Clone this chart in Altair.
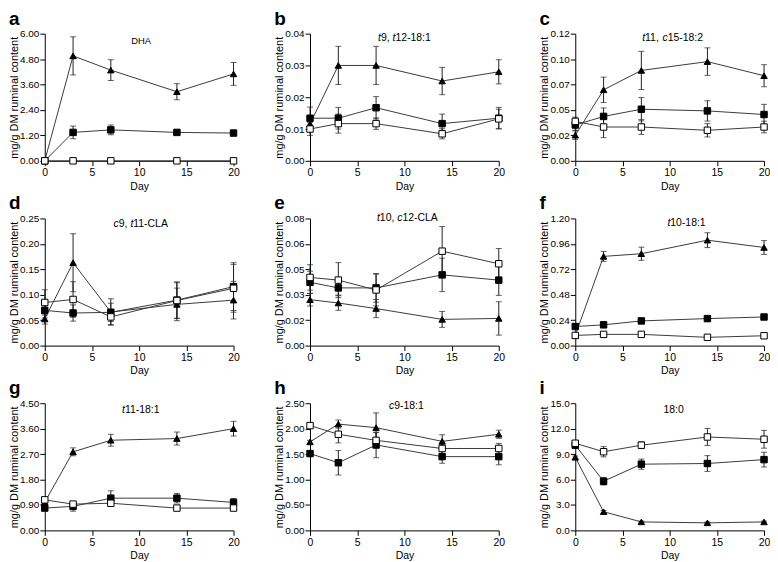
import altair as alt
import pandas as pd

FONT = "Liberation Sans"

DAYS = [0, 3, 7, 14, 20]
X_TICKS = [0, 5, 10, 15, 20]
SERIES = ["triangle", "filled square", "open square"]
LETTERS = ["a", "b", "c", "d", "e", "f", "g", "h", "i"]

# panel titles as (text, italic) segments
TITLES = [
    [("DHA", False)],
    [("t", True), ("9, ", False), ("t", True), ("12-18:1", False)],
    [("t", True), ("11, ", False), ("c", True), ("15-18:2", False)],
    [("c", True), ("9, ", False), ("t", True), ("11-CLA", False)],
    [("t", True), ("10, ", False), ("c", True), ("12-CLA", False)],
    [("t", True), ("10-18:1", False)],
    [("t", True), ("11-18:1", False)],
    [("c", True), ("9-18:1", False)],
    [("18:0", False)],
]

# y-axis ticks per panel
Y_TICKS = [
    [0, 1.2, 2.4, 3.6, 4.8, 6.0],
    [0, 0.01, 0.02, 0.03, 0.04],
    [0, 0.024, 0.048, 0.072, 0.096, 0.12],
    [0, 0.05, 0.10, 0.15, 0.20, 0.25],
    [0, 0.016, 0.032, 0.048, 0.064, 0.08],
    [0, 0.24, 0.48, 0.72, 0.96, 1.2],
    [0, 0.9, 1.8, 2.7, 3.6, 4.5],
    [0, 0.5, 1.0, 1.5, 2.0, 2.5],
    [0, 3.0, 6.0, 9.0, 12.0, 15.0],
]
Y_FMT = [".2f", ".2f", ".2f", ".2f", ".2f", ".2f", ".2f", ".2f", ".1f"]

# means per panel: [triangle, filled square, open square]
MEAN_A = [[0, 4.95, 4.28, 3.26, 4.10], [0, 1.34, 1.46, 1.34, 1.31], [0, 0, 0, 0, 0]]
SEM_A = [[0, 0.90, 0.49, 0.38, 0.54], [0, 0.30, 0.23, 0.05, 0.07], [0, 0, 0, 0, 0]]

MEAN_B = [[0.0116, 0.030, 0.030, 0.0251, 0.028], [0.0134, 0.0134, 0.0167, 0.0117, 0.0134],
          [0.0100, 0.0117, 0.0117, 0.0085, 0.0132]]
SEM_B = [[0.002, 0.006, 0.006, 0.0043, 0.0038], [0.0035, 0.0034, 0.0035, 0.003, 0.0034],
         [0.002, 0.003, 0.0018, 0.0016, 0.003]]

MEAN_C = [[0.0242, 0.067, 0.0853, 0.0936, 0.0803], [0.0338, 0.0419, 0.0487, 0.0471, 0.0437],
          [0.0372, 0.0319, 0.0319, 0.0288, 0.0319]]
SEM_C = [[0.004, 0.012, 0.018, 0.013, 0.0104], [0.005, 0.008, 0.011, 0.0096, 0.0096],
         [0.004, 0.010, 0.007, 0.0063, 0.0055]]

MEAN_D = [[0.0524, 0.163, 0.066, 0.081, 0.0894], [0.0693, 0.0641, 0.0654, 0.0894, 0.116],
          [0.0848, 0.0907, 0.0564, 0.0887, 0.1127]]
SEM_D = [[0.01, 0.057, 0.026, 0.032, 0.037], [0.015, 0.016, 0.018, 0.036, 0.047],
         [0.025, 0.035, 0.015, 0.035, 0.047]]

MEAN_E = [[0.0289, 0.0268, 0.0233, 0.0165, 0.0171], [0.0398, 0.0363, 0.0363, 0.0445, 0.0412],
          [0.0429, 0.0412, 0.035, 0.0594, 0.0515]]
SEM_E = [[0.004, 0.0046, 0.0057, 0.005, 0.0105], [0.007, 0.0045, 0.009, 0.0105, 0.0096],
         [0.008, 0.011, 0.01, 0.0155, 0.0096]]

MEAN_F = [[0.096, 0.842, 0.867, 0.995, 0.926], [0.18, 0.196, 0.233, 0.255, 0.27],
          [0.096, 0.106, 0.106, 0.078, 0.093]]
SEM_F = [[0.01, 0.047, 0.062, 0.07, 0.065], [0.012, 0.012, 0.012, 0.012, 0.012],
         [0.005, 0.005, 0.005, 0.005, 0.005]]

MEAN_G = [[1.0, 2.78, 3.19, 3.25, 3.60], [0.79, 0.85, 1.14, 1.14, 0.99],
          [1.08, 0.93, 0.96, 0.79, 0.79]]
SEM_G = [[0.05, 0.14, 0.21, 0.23, 0.26], [0.05, 0.17, 0.26, 0.17, 0.14],
         [0.05, 0.05, 0.06, 0.04, 0.04]]

MEAN_H = [[1.74, 2.09, 2.02, 1.75, 1.89], [1.51, 1.33, 1.68, 1.45, 1.45],
          [2.06, 1.89, 1.77, 1.61, 1.61]]
SEM_H = [[0.03, 0.08, 0.29, 0.13, 0.08], [0.03, 0.24, 0.25, 0.13, 0.16],
         [0.03, 0.17, 0.15, 0.10, 0.10]]

MEAN_I = [[8.62, 2.2, 1.0, 0.89, 1.0], [10.05, 5.80, 7.81, 7.89, 8.35],
          [10.28, 9.28, 10.05, 11.02, 10.75]]
SEM_I = [[0.15, 0.15, 0.1, 0.1, 0.1], [0.3, 0.45, 0.6, 0.93, 0.87],
         [0.3, 0.6, 0.4, 1.0, 1.05]]

MEANS = [MEAN_A, MEAN_B, MEAN_C, MEAN_D, MEAN_E, MEAN_F, MEAN_G, MEAN_H, MEAN_I]
SEMS = [SEM_A, SEM_B, SEM_C, SEM_D, SEM_E, SEM_F, SEM_G, SEM_H, SEM_I]

# layout / style
W, H = 190, 128
TITLE_SIZE = [9.5, 10.5, 10.5, 10.5, 10.5, 10.5, 10.5, 10.5, 10.5]
TITLE_DX = [2, 0, 3, 2, 3, 17, 2, 2, 4]
TITLE_Y = [7, 4, 4, 6, 0, 5, 7, 3, 7]

CHAR_W = {"t": 0.278, "c": 0.5, ",": 0.278, " ": 0.278, "-": 0.333, ":": 0.278,
          "C": 0.722, "L": 0.556, "A": 0.667, "D": 0.722, "H": 0.722}


def text_width(s, size):
    return sum(CHAR_W.get(ch, 0.556) for ch in s) * size


def panel(k):
    rows = []
    for s_idx, s in enumerate(SERIES):
        for d, m, e in zip(DAYS, MEANS[k][s_idx], SEMS[k][s_idx]):
            rows.append({"day": d, "series": s, "mean": m, "lo": m - e, "hi": m + e})
    df = pd.DataFrame(rows)
    ymax = Y_TICKS[k][-1]

    x = alt.X("day:Q", scale=alt.Scale(domain=[0, 20], nice=False),
              axis=alt.Axis(values=X_TICKS, tickCount=len(X_TICKS), title="Day",
                            format="d", labelOverlap=False))
    y = alt.Y("mean:Q", scale=alt.Scale(domain=[0, ymax], nice=False, zero=True),
              axis=alt.Axis(values=Y_TICKS[k], tickCount=len(Y_TICKS[k]), format=Y_FMT[k],
                            labelOverlap=False, title="mg/g DM ruminal content"))

    base = alt.Chart(df)
    lines = base.mark_line(color="#3a3a3a", strokeWidth=1).encode(
        x=x, y=y, detail="series:N")
    rules = base.mark_rule(color="#222222", strokeWidth=1).encode(
        x="day:Q", y="lo:Q", y2="hi:Q")
    cap_lo = base.mark_tick(orient="horizontal", size=6, thickness=1, color="#222222").encode(
        x="day:Q", y="lo:Q")
    cap_hi = base.mark_tick(orient="horizontal", size=6, thickness=1, color="#222222").encode(
        x="day:Q", y="hi:Q")
    points = base.mark_point(filled=True, stroke="black", strokeWidth=1, size=42,
                             opacity=1, fillOpacity=1).encode(
        x="day:Q", y="mean:Q",
        shape=alt.Shape("series:N", scale=alt.Scale(domain=SERIES,
                        range=["triangle-up", "square", "square"]), legend=None),
        fill=alt.Fill("series:N", scale=alt.Scale(domain=SERIES,
                      range=["black", "black", "white"]), legend=None),
    )

    layers = [lines, rules, cap_lo, cap_hi, points]

    # in-plot title made of segments
    size = TITLE_SIZE[k]
    total = sum(text_width(t, size) for t, _ in TITLES[k])
    xpos = W / 2 - total / 2 + TITLE_DX[k]
    for t, ital in TITLES[k]:
        layers.append(
            alt.Chart(pd.DataFrame({"t": [t]})).mark_text(
                align="left", baseline="middle", font=FONT, fontSize=size,
                fontStyle="italic" if ital else "normal", color="black"
            ).encode(x=alt.value(xpos), y=alt.value(TITLE_Y[k]), text="t:N")
        )
        xpos += text_width(t, size)

    # panel letter
    layers.append(
        alt.Chart(pd.DataFrame({"t": [LETTERS[k]]})).mark_text(
            align="left", baseline="alphabetic", font=FONT, fontSize=19,
            fontWeight="bold", color="black"
        ).encode(x=alt.value(-36), y=alt.value(-9), text="t:N")
    )

    return alt.layer(*layers).properties(width=W, height=H)


chart = alt.concat(*[panel(k) for k in range(9)], columns=3,
                   spacing={"row": 58, "column": 77}, bounds="flush").properties(
    padding={"left": 0, "top": 0, "right": 0, "bottom": 0}
).configure_view(stroke=None).configure_axis(
    grid=False, domainColor="black", tickColor="black", labelColor="black",
    titleColor="black", labelFont=FONT, titleFont=FONT, titleFontWeight="normal",
    domainWidth=1, tickWidth=1, tickSize=5, labelFontSize=10.5, titleFontSize=11,
    labelPadding=1, labelFlush=False, labelOverlap=False
).configure_axisY(titlePadding=0, labelFontSize=10).configure_axisX(
    titlePadding=3, titleFontSize=10.5, labelPadding=2)

chart.save("out.html", embed_options={"renderer": "svg", "actions": False})
